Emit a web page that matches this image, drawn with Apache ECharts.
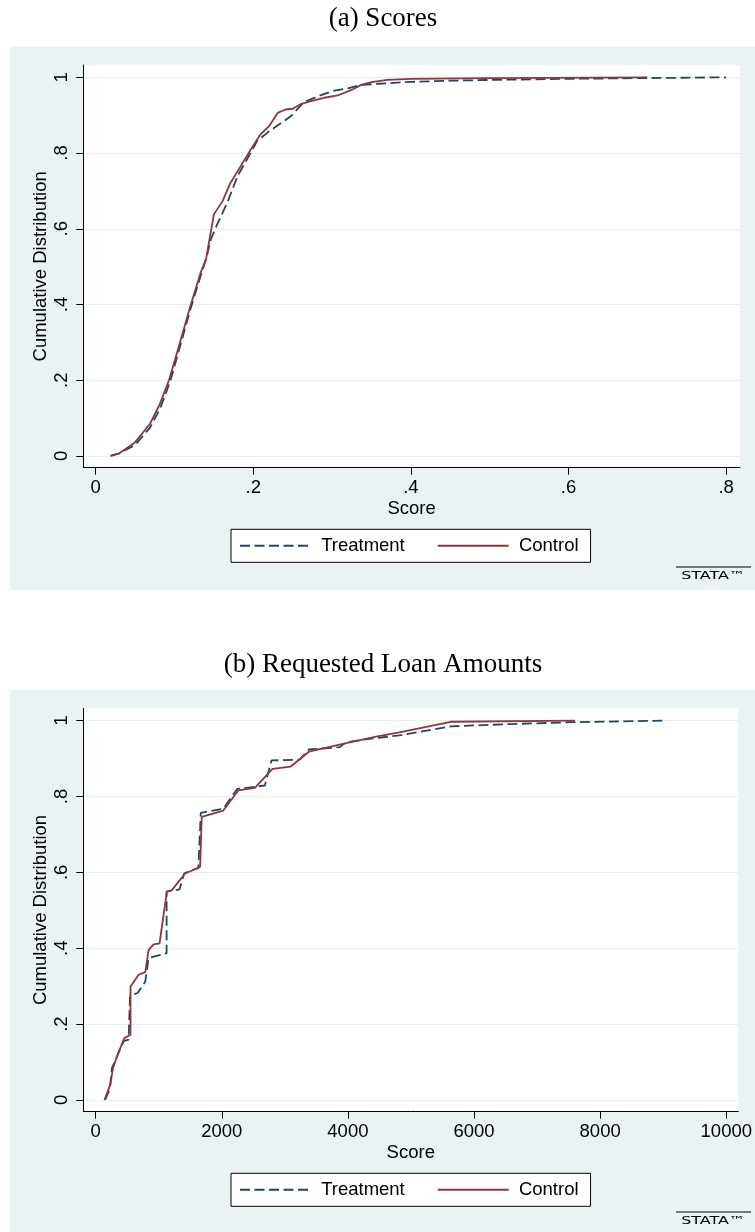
<!DOCTYPE html>
<html><head><meta charset="utf-8">
<script src="https://cdn.jsdelivr.net/npm/echarts@6/dist/echarts.min.js"></script>
<style>html,body{margin:0;padding:0;background:#fff}#c{width:755px;height:1232px}</style>
</head><body><div id="c"></div>
<script>
const titles = ["(a) Scores", "(b) Requested Loan Amounts"];
const seriesNames = ["Treatment", "Control"];
const xAxisName = "Score";
const yAxisName = "Cumulative Distribution";
const yTickValues = [0, 0.2, 0.4, 0.6, 0.8, 1];
const yTickLabels = ["0", ".2", ".4", ".6", ".8", "1"];
const xTickValuesA = [0, 0.2, 0.4, 0.6, 0.8];
const xTickLabelsA = ["0", ".2", ".4", ".6", ".8"];
const xTickValuesB = [0, 2000, 4000, 6000, 8000, 10000];
const xTickLabelsB = ["0", "2000", "4000", "6000", "8000", "10000"];

// Panel (a): Scores — [score, cumulative share]
const treatA = [[0.019,0],[0.030,0.007],[0.050,0.029],[0.069,0.075],[0.082,0.126],[0.095,0.200],[0.107,0.289],[0.120,0.386],[0.133,0.474],[0.141,0.527],[0.146,0.571],[0.154,0.611],[0.167,0.669],[0.180,0.739],[0.192,0.783],[0.205,0.832],[0.218,0.854],[0.233,0.876],[0.248,0.898],[0.264,0.934],[0.282,0.950],[0.303,0.965],[0.320,0.971],[0.337,0.980],[0.360,0.983],[0.400,0.988],[0.450,0.991],[0.500,0.993],[0.600,0.996],[0.700,0.998],[0.800,1.000]];
const ctrlA = [[0.019,0],[0.030,0.007],[0.049,0.034],[0.069,0.085],[0.081,0.135],[0.093,0.200],[0.105,0.285],[0.120,0.395],[0.133,0.483],[0.140,0.519],[0.150,0.638],[0.161,0.673],[0.171,0.721],[0.184,0.765],[0.197,0.810],[0.209,0.849],[0.220,0.871],[0.231,0.906],[0.241,0.915],[0.250,0.917],[0.260,0.929],[0.273,0.937],[0.290,0.946],[0.307,0.952],[0.324,0.966],[0.337,0.980],[0.350,0.987],[0.370,0.993],[0.400,0.996],[0.500,0.998],[0.700,1.000]];

// Panel (b): Requested loan amounts — [amount, cumulative share]
const treatB = [[150,0],[223,0.028],[260,0.085],[339,0.115],[444,0.155],[523,0.159],[545,0.275],[665,0.282],[787,0.312],[839,0.374],[1125,0.387],[1125,0.549],[1329,0.555],[1403,0.597],[1629,0.612],[1667,0.757],[2024,0.768],[2245,0.820],[2683,0.829],[2788,0.895],[3235,0.897],[3382,0.924],[3867,0.930],[3973,0.943],[4341,0.952],[4815,0.961],[5632,0.985],[6605,0.991],[7580,0.996],[9000,1.000]];
const ctrlB = [[140,0],[234,0.041],[276,0.085],[350,0.120],[455,0.163],[553,0.172],[553,0.299],[681,0.330],[787,0.337],[839,0.395],[918,0.410],[1013,0.413],[1129,0.549],[1208,0.553],[1419,0.597],[1656,0.614],[1682,0.746],[2024,0.763],[2261,0.816],[2524,0.823],[2804,0.873],[3093,0.879],[3382,0.918],[3920,0.939],[4447,0.958],[4815,0.969],[5632,0.997],[7600,1.000]];

const BLUE = '#1a476f', RED = '#90353b', BG = '#eaf2f3', GRIDC = '#e6eef0';
const FONT = "'Liberation Sans', Arial, sans-serif";
const SERIF = "'Liberation Serif', 'Times New Roman', serif";

function labeler(vals, labs) {
  return v => { for (let i = 0; i < vals.length; i++) if (Math.abs(vals[i] - v) < 1e-9) return labs[i]; return ''; };
}
function xAx(grid, min, max, vals, labs) {
  return {
    gridIndex: grid, type: 'value', min: min, max: max,
    axisLine: { show: true, onZero: false, lineStyle: { color: '#000', width: 1 } },
    axisTick: { show: true, customValues: vals, length: 7, lineStyle: { color: '#000', width: 1 } },
    axisLabel: { customValues: vals, formatter: labeler(vals, labs), margin: 11, fontSize: 18.5, color: '#000', fontFamily: FONT },
    splitLine: { show: false },
    name: xAxisName, nameLocation: 'middle', nameGap: 32, nameMoveOverlap: false,
    nameTextStyle: { fontSize: 18.5, color: '#000', fontFamily: FONT }
  };
}
function yAx(grid) {
  return {
    gridIndex: grid, type: 'value', min: -0.031, max: 1.0325,
    axisLine: { show: true, onZero: false, lineStyle: { color: '#000', width: 1 } },
    axisTick: { show: true, customValues: yTickValues, length: 7, lineStyle: { color: '#000', width: 1 } },
    axisLabel: { customValues: yTickValues, formatter: labeler(yTickValues, yTickLabels), rotate: 90, margin: 12, fontSize: 18.5, color: '#000', fontFamily: FONT },
    splitLine: { show: true, lineStyle: { color: GRIDC, width: 1 } },
    name: yAxisName, nameLocation: 'middle', nameGap: 33, nameRotate: 90, nameMoveOverlap: false,
    nameTextStyle: { fontSize: 18.5, color: '#000', fontFamily: FONT }
  };
}
function ser(name, data, idx, color, dashed) {
  return {
    type: 'line', name: name, xAxisIndex: idx, yAxisIndex: idx, data: data,
    symbol: 'none', showSymbol: false, smooth: false, animation: false, silent: true,
    lineStyle: { color: color, width: 1.8, type: dashed ? [10, 4.5] : 'solid' },
    itemStyle: { color: color }
  };
}
function legendAt(top) {
  return {
    data: seriesNames, left: 231, top: top, orient: 'horizontal',
    itemWidth: 71, itemHeight: 14, itemGap: 32, padding: [7, 12, 7, 8],
    backgroundColor: '#fff', borderColor: '#000', borderWidth: 1, borderRadius: 0,
    selectedMode: false, formatter: n => ' ' + n,
    itemStyle: { opacity: 0, borderWidth: 0 },
    textStyle: { fontSize: 18.5, color: '#000', fontFamily: FONT }
  };
}
function logo(y) {
  return [
    { type: 'line', shape: { x1: 676, y1: y, x2: 751, y2: y }, style: { stroke: '#000', lineWidth: 1 }, z: 5 },
    { type: 'text', x: 713, y: y + 9, scaleX: 1.45, z: 5,
      style: { text: 'STATA™', fill: '#000', font: "11px 'DejaVu Sans', sans-serif", textAlign: 'center', textVerticalAlign: 'middle' } }
  ];
}

const chart = echarts.init(document.getElementById('c'), null, { renderer: 'canvas' });
chart.setOption({
  animation: false,
  backgroundColor: '#fff',
  title: [
    { text: titles[0], left: 383, top: 5, textAlign: 'center', padding: 0, textStyle: { fontFamily: SERIF, fontSize: 27, fontWeight: 'normal', color: '#000' } },
    { text: titles[1], left: 383, top: 651, textAlign: 'center', padding: 0, textStyle: { fontFamily: SERIF, fontSize: 27, fontWeight: 'normal', color: '#000' } }
  ],
  grid: [
    { left: 83.3, top: 65, width: 656.7, height: 402.7, show: true, backgroundColor: '#fff', borderWidth: 0, containLabel: false },
    { left: 83.3, top: 708.3, width: 657.7, height: 403.4, show: true, backgroundColor: '#fff', borderWidth: 0, containLabel: false }
  ],
  xAxis: [
    xAx(0, -0.0157, 0.8176, xTickValuesA, xTickLabelsA),
    xAx(1, -196, 10190, xTickValuesB, xTickLabelsB)
  ],
  yAxis: [yAx(0), yAx(1)],
  legend: [legendAt(529.3), legendAt(1173.3)],
  graphic: [
    { type: 'rect', shape: { x: 10, y: 46.7, width: 760, height: 543.3 }, style: { fill: BG }, z: -10 },
    { type: 'rect', shape: { x: 10, y: 690, width: 760, height: 560 }, style: { fill: BG }, z: -10 }
  ].concat(logo(567), logo(1212)),
  series: [
    ser(seriesNames[0], treatA, 0, BLUE, true),
    ser(seriesNames[1], ctrlA, 0, RED, false),
    ser(seriesNames[0], treatB, 1, BLUE, true),
    ser(seriesNames[1], ctrlB, 1, RED, false)
  ]
});
</script></body></html>
